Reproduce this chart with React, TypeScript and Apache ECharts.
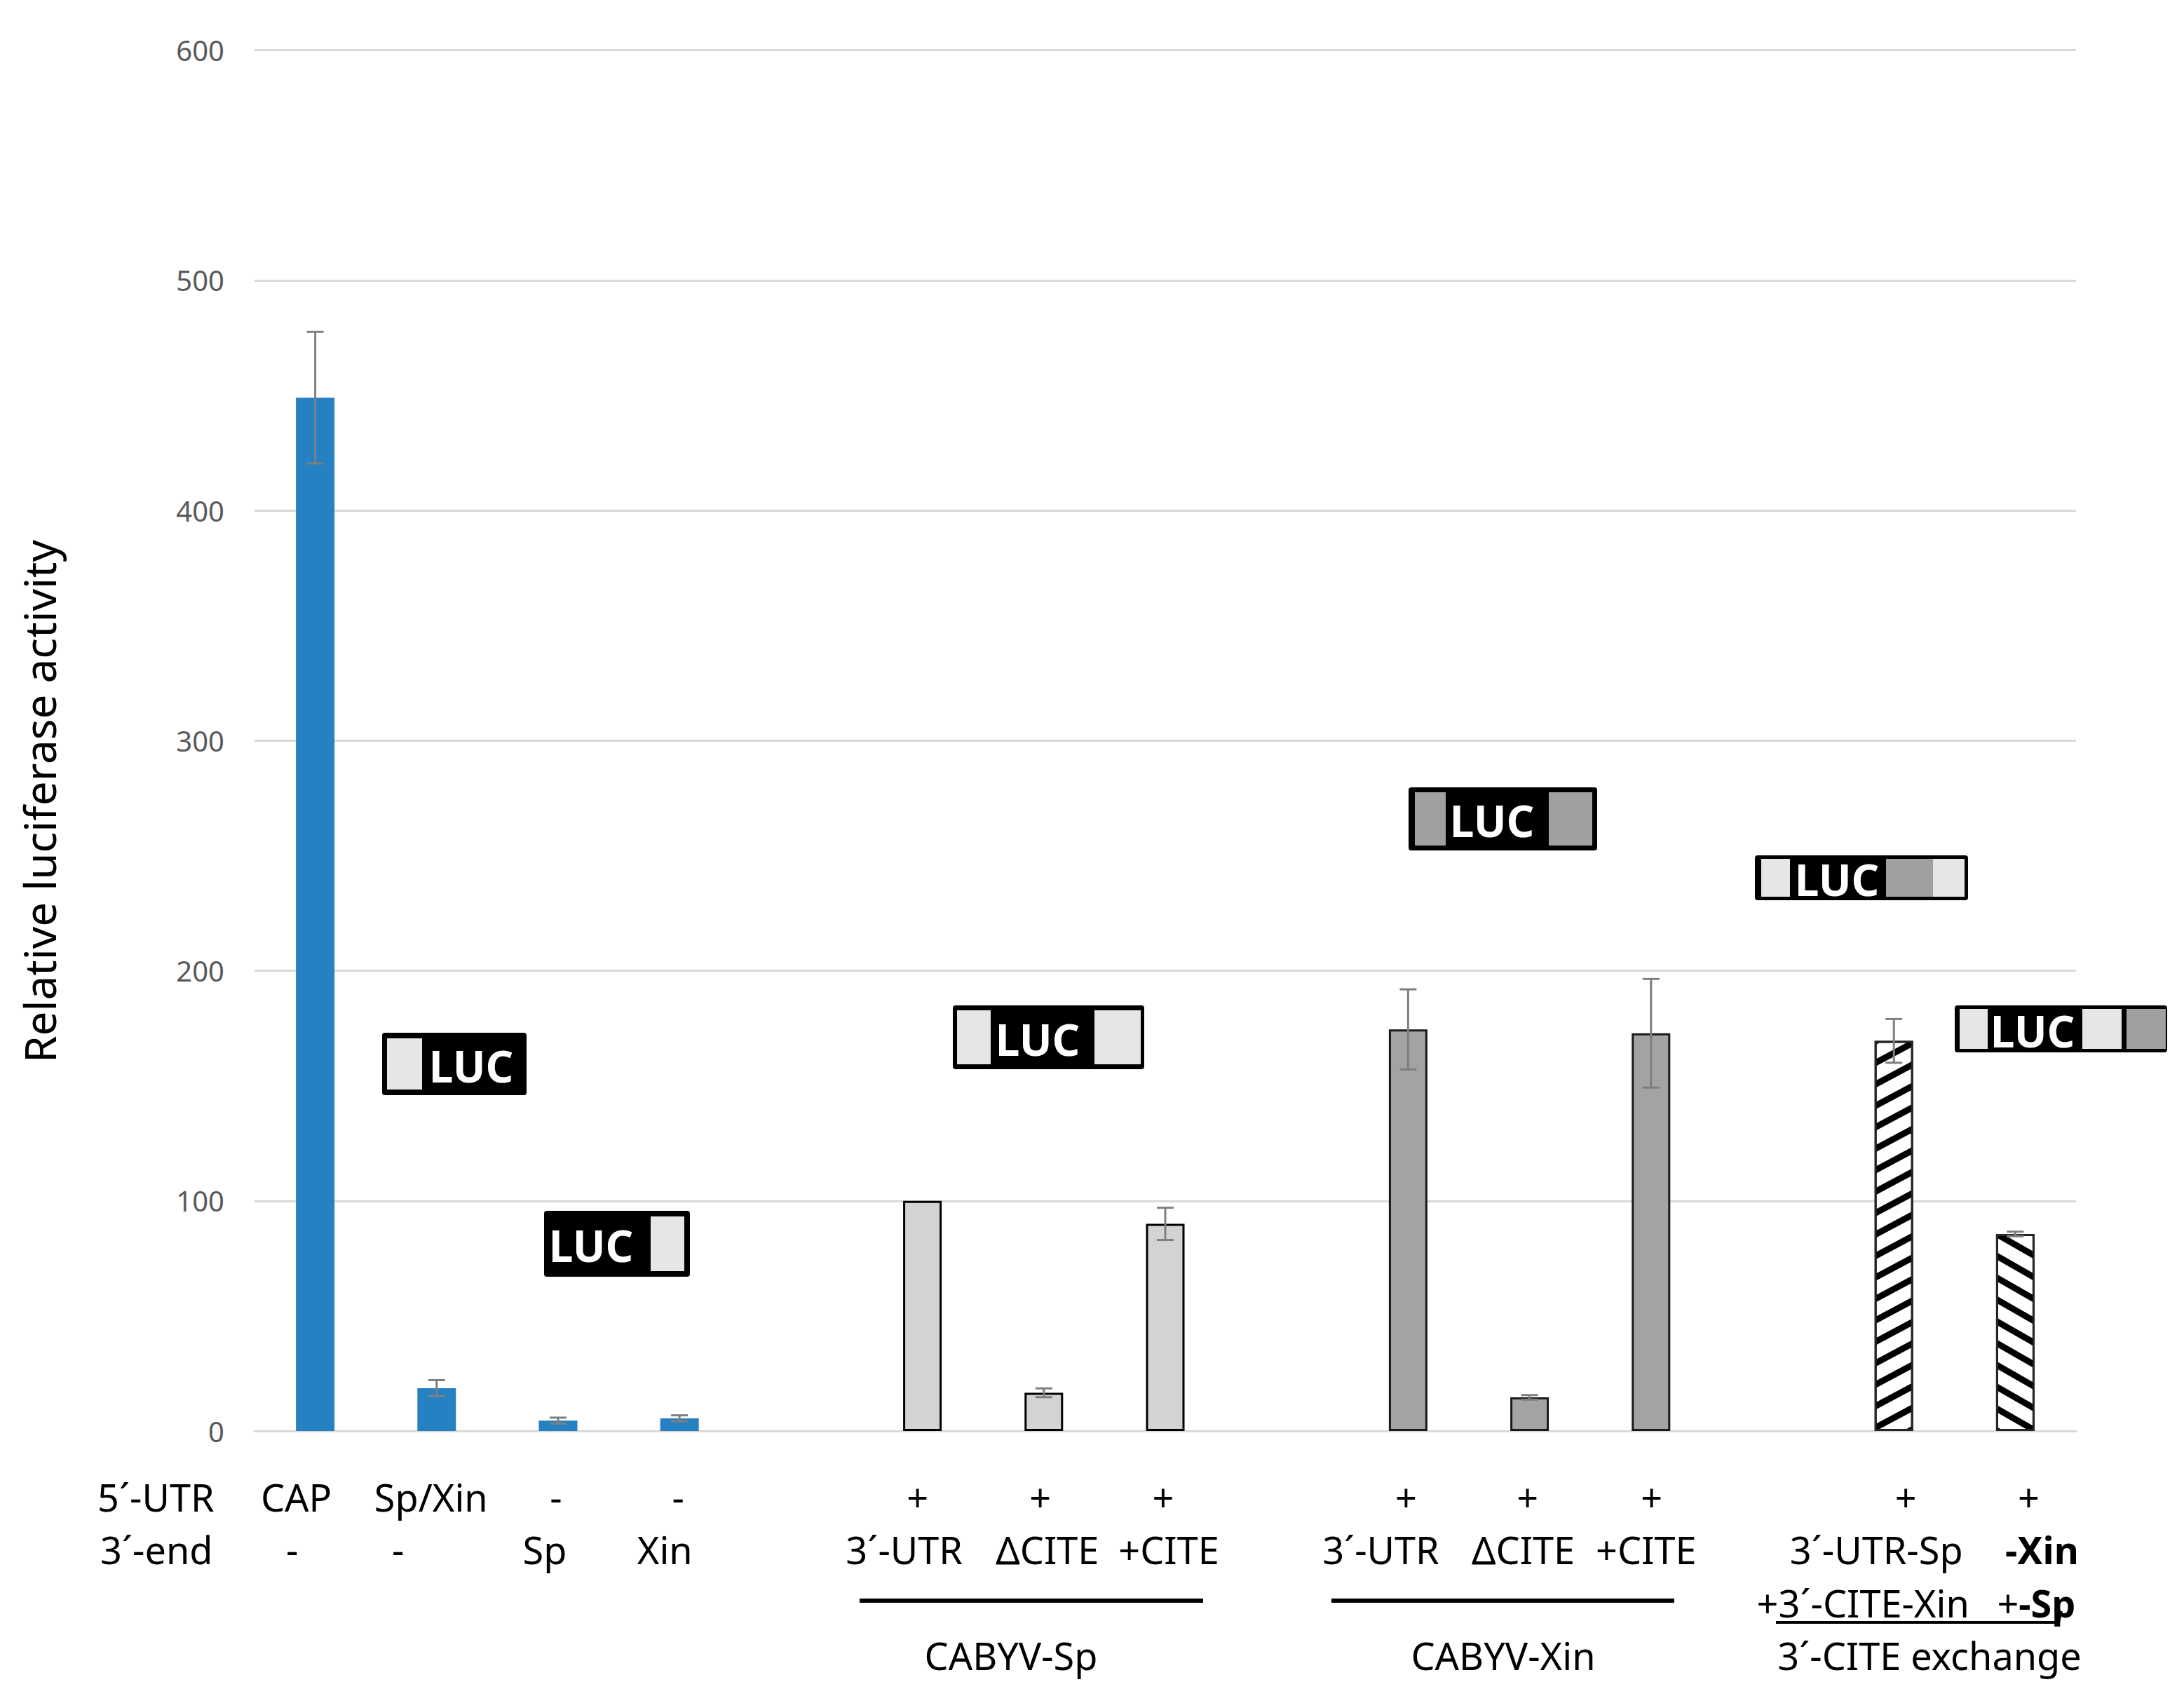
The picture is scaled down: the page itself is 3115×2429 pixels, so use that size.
import React, { useEffect, useRef } from "react";
import * as echarts from "echarts";

// ---------------- data ----------------
const categories = [
  "CAP", "Sp/Xin", "Sp", "Xin", "gap1",
  "Sp 3´-UTR", "Sp ΔCITE", "Sp +CITE", "gap2",
  "Xin 3´-UTR", "Xin ΔCITE", "Xin +CITE", "gap3",
  "3´-UTR-Sp +3´-CITE-Xin", "-Xin +-Sp",
];
const values = [449, 18.6, 4.5, 5.5, null, 100, 16.6, 90, null, 174.5, 14.6, 172.8, null, 169.5, 85.6];
const errors = [28.6, 3.5, 1.3, 1.3, null, null, 1.9, 7, null, 17.4, 1, 23.6, null, 9.5, 1];
const barKinds = ["blue", "blue", "blue", "blue", null, "light", "light", "light", null, "dark", "dark", "dark", null, "hatchUp", "hatchDown"];
const yMin = 0;
const yMax = 600;
const yInterval = 100;
const rowTitles = ["5´-UTR", "3´-end"];
const row1Labels = ["CAP", "Sp/Xin", "-", "-", "", "+", "+", "+", "", "+", "+", "+", "", "+", "+"];
const row2Labels = ["-", "-", "Sp", "Xin", "", "3´-UTR", "ΔCITE", "+CITE", "", "3´-UTR", "ΔCITE", "+CITE", "", "3´-UTR-Sp", "{b|-Xin}"];
const row3Labels = ["", "", "", "", "", "", "", "", "", "", "", "", "", "+3´-CITE-Xin", "{r|+}{b|-Sp}"];
const groupNames = ["CABYV-Sp", "CABYV-Xin", "3´-CITE exchange"];
const yTitle = "Relative luciferase activity";

// ---------------- layout ----------------
const W = 3115;
const H = 2429;
const GRID = { left: 363, right: 154, top: 71.5, bottom: 388 };
const FONT = '"Noto Sans", "Open Sans", sans-serif';
const slot = (W - GRID.left - GRID.right) / categories.length;
const cx = (i: number) => GRID.left + slot * (i + 0.5);
const row1Dx = [-27, -8, -3, -2, 0, -7, -5, -3, 0, -3, -3, 1, 0, 17, 19];
const row2Dx = [-33, -55, -19, -21, 0, -26, 5, 5, 0, -39, -9, -7, 0, -25, 38];
const row3Dx = [0, 0, 0, 0, 0, 0, 0, 0, 0, 0, 0, 0, 0, -44, 30];
const ROW_Y = [2135, 2210, 2286];
const GROUP_Y = 2361;
const groupLabelX = [1442, 2144, 2752];
const groupLines = [
  [1226, 1716],
  [1899, 2388],
];
const GROUP_LINE_Y = 2283;

const LIGHT = "#e6e6e6";
const DARK = "#a0a0a0";
const lucBoxes = [
  { x: 545, y: 1473, w: 206, h: 89, inset: 8, parts: [[552, 602, LIGHT]], tx: 672 },
  { x: 776, y: 1727, w: 208, h: 94, inset: 8, parts: [[928, 976, LIGHT]], tx: 843 },
  { x: 1359, y: 1434, w: 273, h: 91, inset: 7, parts: [[1365, 1413, LIGHT], [1561, 1627, LIGHT]], tx: 1480 },
  { x: 2009, y: 1123, w: 269, h: 90, inset: 7, parts: [[2018, 2062, DARK], [2209, 2271, DARK]], tx: 2128 },
  { x: 2503, y: 1220, w: 304, h: 64, inset: 5, parts: [[2512, 2553, LIGHT], [2690, 2757, DARK], [2757, 2802, LIGHT]], tx: 2620 },
  { x: 2788, y: 1434, w: 303, h: 67, inset: 5, parts: [[2795, 2835, LIGHT], [2970, 3026, LIGHT], [3033, 3089, DARK]], tx: 2899 },
];

function styleFor(kind: string | null) {
  switch (kind) {
    case "blue":
      return { color: "#2681c3" };
    case "light":
      return { color: "#d3d3d3", borderColor: "#000", borderWidth: 3 };
    case "dark":
      return { color: "#a3a3a3", borderColor: "#1a1a1a", borderWidth: 3 };
    case "hatchUp":
    case "hatchDown":
      return {
        color: "#ffffff",
        borderColor: "#262626",
        borderWidth: 3,
        decal: {
          symbol: "rect",
          symbolSize: 1,
          dashArrayX: [1, 0],
          dashArrayY: [9, 18],
          rotation: kind === "hatchUp" ? -0.49 : 0.52,
          color: "#000",
        },
      };
    default:
      return {};
  }
}

export default function App() {
  const ref = useRef<HTMLDivElement>(null);

  useEffect(() => {
    if (!ref.current) return;
    const chart = echarts.init(ref.current, null, { renderer: "svg" });

    const barData = values.map((v, i) =>
      v === null ? "-" : { value: v, itemStyle: styleFor(barKinds[i]) }
    );
    const errData: any[] = [];
    values.forEach((v, i) => {
      const e = errors[i];
      if (v !== null && e !== null && e !== undefined) errData.push([i, v - e, v + e]);
    });

    const textStyle = (text: string, x: number, y: number, extra: any = {}) => ({
      type: "text",
      x,
      y,
      silent: true,
      style: {
        text,
        fill: "#000",
        fontSize: 54,
        fontFamily: FONT,
        align: "center",
        verticalAlign: "middle",
        rich: {
          b: { fontSize: 54, fontFamily: FONT, fontWeight: "bold", fill: "#000" },
          r: { fontSize: 54, fontFamily: FONT, fill: "#000" },
        },
        ...extra,
      },
    });

    const graphics: any[] = [];
    // y title
    graphics.push({
      type: "text",
      x: 56,
      y: 1143,
      rotation: Math.PI / 2,
      style: {
        text: yTitle,
        fill: "#000",
        fontSize: 62,
        fontFamily: FONT,
        align: "center",
        verticalAlign: "middle",
      },
    });
    // row titles
    graphics.push(textStyle(rowTitles[0], 139, ROW_Y[0], { align: "left" }));
    graphics.push(textStyle(rowTitles[1], 143, ROW_Y[1], { align: "left" }));
    // column labels
    [row1Labels, row2Labels, row3Labels].forEach((row, r) => {
      const dxs = [row1Dx, row2Dx, row3Dx][r];
      row.forEach((t, i) => {
        if (!t) return;
        graphics.push(textStyle(t, cx(i) + dxs[i], ROW_Y[r]));
      });
    });
    // group lines & names
    groupLines.forEach(([x1, x2]) => {
      graphics.push({
        type: "line",
        shape: { x1, y1: GROUP_LINE_Y, x2, y2: GROUP_LINE_Y },
        style: { stroke: "#000", lineWidth: 6 },
      });
    });
    graphics.push({
      type: "polyline",
      shape: { points: [[2533, 2314], [2936, 2314], [2940, 2298]] },
      style: { stroke: "#000", lineWidth: 4, fill: "none" },
    });
    groupNames.forEach((g, i) => graphics.push(textStyle(g, groupLabelX[i], GROUP_Y)));
    // LUC boxes
    lucBoxes.forEach((b) => {
      const children: any[] = [
        { type: "rect", shape: { x: b.x, y: b.y, width: b.w, height: b.h, r: 4 }, style: { fill: "#000" } },
      ];
      b.parts.forEach(([x0, x1, c]: any) => {
        children.push({
          type: "rect",
          shape: { x: x0, y: b.y + b.inset, width: x1 - x0, height: b.h - 2 * b.inset },
          style: { fill: c },
        });
      });
      children.push({
        type: "text",
        x: b.tx,
        y: b.y + b.h / 2 + 2,
        style: {
          text: "LUC",
          fill: "#fff",
          fontSize: 62,
          fontWeight: "bold",
          fontFamily: FONT,
          align: "center",
          verticalAlign: "middle",
        },
      });
      graphics.push({ type: "group", children });
    });

    chart.setOption({
      animation: false,
      backgroundColor: "#ffffff",
      grid: { ...GRID, containLabel: false },
      xAxis: {
        type: "category",
        data: categories,
        axisLabel: { show: false },
        axisTick: { show: false },
        axisLine: { lineStyle: { color: "#d9d9d9", width: 3 } },
      },
      yAxis: {
        type: "value",
        min: yMin,
        max: yMax,
        interval: yInterval,
        axisLine: { show: false },
        axisTick: { show: false },
        axisLabel: { fontSize: 40, color: "#595959", fontFamily: FONT, margin: 43 },
        splitLine: { lineStyle: { color: "#d9d9d9", width: 3 } },
      },
      series: [
        {
          type: "bar",
          data: barData,
          barWidth: 55,
          z: 2,
        },
        {
          type: "custom",
          z: 5,
          encode: { x: 0, y: [1, 2] },
          data: errData,
          renderItem: (params: any, api: any) => {
            const x = api.value(0);
            const lo = api.coord([x, api.value(1)]);
            const hi = api.coord([x, api.value(2)]);
            const hw = 12;
            const st = { stroke: "#7f7f7f", lineWidth: 3 };
            return {
              type: "group",
              children: [
                { type: "line", shape: { x1: hi[0], y1: hi[1], x2: lo[0], y2: lo[1] }, style: st },
                { type: "line", shape: { x1: hi[0] - hw, y1: hi[1], x2: hi[0] + hw, y2: hi[1] }, style: st },
                { type: "line", shape: { x1: lo[0] - hw, y1: lo[1], x2: lo[0] + hw, y2: lo[1] }, style: st },
              ],
            };
          },
        },
      ],
      graphic: graphics,
    });

    return () => chart.dispose();
  }, []);

  return (
    <div
      ref={ref}
      style={{ position: "absolute", left: 0, top: 0, width: W, height: H, background: "#fff" }}
    />
  );
}
